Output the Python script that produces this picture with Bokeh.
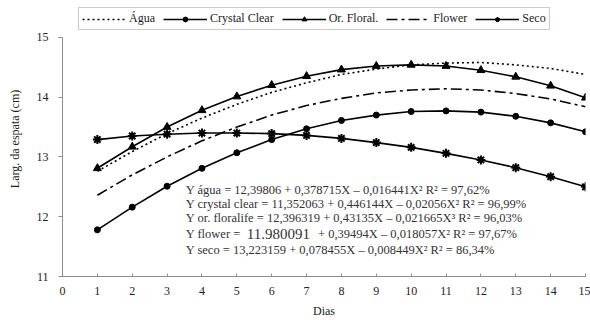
from bokeh.plotting import figure
from bokeh.models import Range1d, Legend, LegendItem, Label, FixedTicker
from bokeh.embed import file_html
from bokeh.resources import INLINE

dias = list(range(1, 16))
agua = [12.76, 13.09, 13.39, 13.65, 13.88, 14.08, 14.24, 14.38, 14.47, 14.54, 14.57, 14.58, 14.54, 14.48, 14.38]
crystal = [11.78, 12.16, 12.51, 12.81, 13.07, 13.29, 13.47, 13.61, 13.70, 13.76, 13.77, 13.75, 13.68, 13.57, 13.42]
floral = [12.81, 13.17, 13.50, 13.78, 14.01, 14.20, 14.35, 14.46, 14.52, 14.54, 14.52, 14.45, 14.34, 14.19, 13.99]
flower = [12.36, 12.70, 13.00, 13.27, 13.50, 13.70, 13.86, 13.98, 14.07, 14.12, 14.14, 14.12, 14.06, 13.97, 13.84]
seco = [13.29, 13.35, 13.38, 13.40, 13.40, 13.39, 13.36, 13.31, 13.24, 13.16, 13.06, 12.95, 12.82, 12.67, 12.50]

x_ticks = list(range(0, 16))
y_ticks = [11, 12, 13, 14, 15]

eq_lines = [
    "Y água = 12,39806 + 0,378715X \u2013 0,016441X\u00b2   R\u00b2 = 97,62%",
    "Y crystal clear = 11,352063 + 0,446144X \u2013 0,02056X\u00b2  R\u00b2 = 96,99%",
    "Y or. floralife = 12,396319 + 0,43135X \u2013 0,021665X\u00b3   R\u00b2 = 96,03%",
    "Y seco = 13,223159 + 0,078455X \u2013 0,008449X\u00b2  R\u00b2 = 86,34%",
]
flower_parts = ["Y flower =", "11.980091", "+ 0,39494X \u2013 0,018057X\u00b2  R\u00b2 = 97,67%"]

FONT = "Liberation Serif"

p = figure(width=590, height=320, output_backend="svg", toolbar_location=None,
           x_range=Range1d(0, 15), y_range=Range1d(11, 15.6),
           min_border_left=62, min_border_right=5, min_border_top=1, min_border_bottom=43)
p.outline_line_color = None
p.xgrid.visible = False
p.ygrid.visible = False
p.background_fill_color = "white"

for ax in (p.xaxis[0], p.yaxis[0]):
    ax.axis_line_color = "#8c8c8c"
    ax.major_tick_line_color = "#8c8c8c"
    ax.minor_tick_line_color = None
    ax.major_label_text_font = FONT
    ax.major_label_text_font_size = "12px"
    ax.major_label_text_color = "#222222"
    ax.axis_label_text_font = FONT
    ax.axis_label_text_font_size = "12px"
    ax.axis_label_text_font_style = "normal"
    ax.axis_label_text_color = "#222222"

p.xaxis.major_tick_out = 0
p.xaxis.major_tick_in = 3
p.yaxis.major_tick_out = 4
p.yaxis.major_tick_in = 0
p.yaxis.bounds = (11, 15)
p.xaxis.ticker = FixedTicker(ticks=x_ticks)
p.yaxis.ticker = FixedTicker(ticks=y_ticks)
p.xaxis.axis_label = "Dias"
p.yaxis.axis_label = "Larg. da espata (cm)"
p.xaxis.major_label_standoff = 10
p.yaxis.major_label_standoff = 10
p.xaxis.axis_label_standoff = 6
p.yaxis.axis_label_standoff = 12

r_agua = p.line(dias, agua, line_color="black", line_width=1.6, line_dash="2 3")
r_cc = p.line(dias, crystal, line_color="black", line_width=1.6)
r_ccm = p.scatter(dias, crystal, marker="circle", size=6, color="black")
r_of = p.line(dias, floral, line_color="black", line_width=1.6)
r_ofm = p.scatter(dias, floral, marker="triangle", size=8, color="black")
r_fl = p.line(dias, flower, line_color="black", line_width=1.6, line_dash="11 4 3 4")
r_se = p.line(dias, seco, line_color="black", line_width=1.6)
r_sem = p.scatter(dias, seco, marker="asterisk", size=9, line_color="black", line_width=2)

legend = Legend(items=[
    LegendItem(label="Água", renderers=[r_agua]),
    LegendItem(label="Crystal Clear", renderers=[r_cc, r_ccm]),
    LegendItem(label="Or. Floral.", renderers=[r_of, r_ofm]),
    LegendItem(label="Flower", renderers=[r_fl]),
    LegendItem(label="Seco", renderers=[r_se, r_sem]),
], orientation="horizontal", location=(16, 246))
legend.label_text_font = FONT
legend.label_text_font_size = "12px"
legend.label_text_color = "#222222"
legend.glyph_width = 44
legend.glyph_height = 12
legend.label_standoff = 3
legend.spacing = 8
legend.padding = 3
legend.margin = 0
legend.label_height = 12
legend.border_line_color = "#9a9a9a"
legend.border_line_width = 1
legend.background_fill_alpha = 1
p.add_layout(legend, "center")

def xd(px):
    return (px - 62) / 34.8

def yd(py):
    return 15 - (py - 37) / 60.0

ys = [190, 204, 218, 250]
for txt, py in zip(eq_lines, ys):
    p.add_layout(Label(x=xd(185), y=yd(py), text=txt, text_font=FONT, text_font_size="12.5px",
                       text_baseline="middle", text_color="#333333"))

p.add_layout(Label(x=xd(185), y=yd(234), text=flower_parts[0], text_font=FONT, text_font_size="12.5px",
                   text_baseline="middle", text_color="#333333"))
p.add_layout(Label(x=xd(246), y=yd(234), text=flower_parts[1], text_font=FONT, text_font_size="15px",
                   text_baseline="middle", text_color="#333333"))
p.add_layout(Label(x=xd(317), y=yd(234), text=flower_parts[2], text_font=FONT, text_font_size="12.5px",
                   text_baseline="middle", text_color="#333333"))

open("out.html", "w").write(file_html(p, INLINE))
